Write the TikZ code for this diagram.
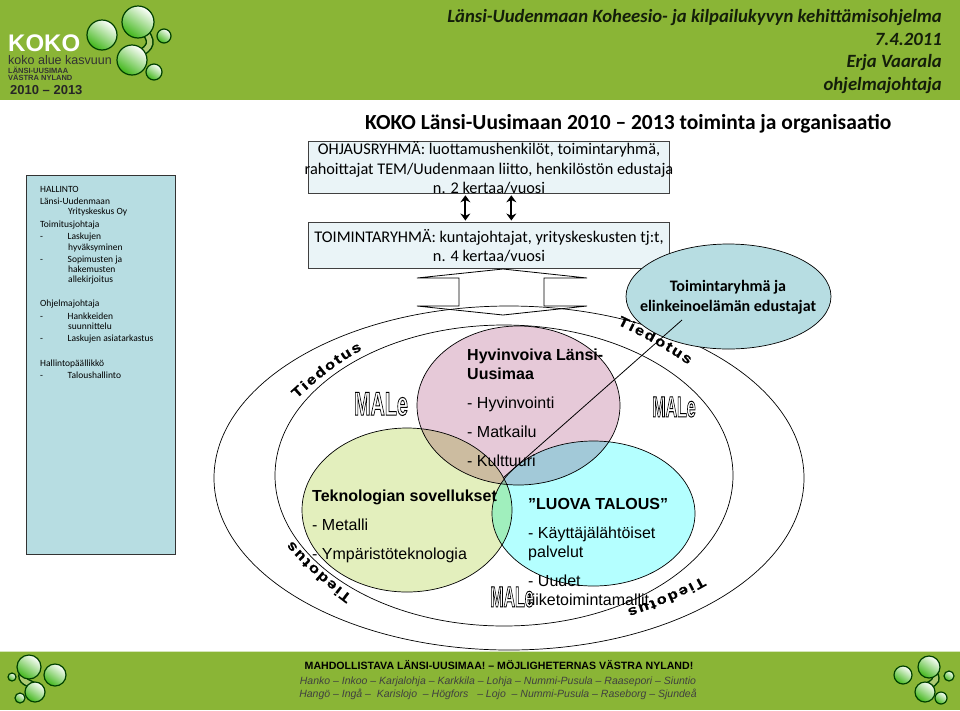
\documentclass[tikz,border=0pt]{standalone}
\usepackage{fontspec}
\usepackage{graphicx}
\setmainfont{Carlito}
\newfontfamily\arialfont{Liberation Sans}
\newfontfamily\tiedfamily[FakeStretch=1.2,FakeBold=.6]{Liberation Sans}
\usetikzlibrary{arrows.meta,calc,decorations.text,shapes.geometric}
\definecolor{kokogreen}{RGB}{138,181,54}
\definecolor{panelblue}{RGB}{183,221,226}
\definecolor{boxblue}{RGB}{234,244,247}
\definecolor{softpink}{RGB}{230,201,216}
\definecolor{softlime}{RGB}{227,239,189}
\definecolor{softcyan}{RGB}{180,255,255}
\definecolor{darktext}{RGB}{20,30,10}
\newcommand{\malefont}[2]{{\arialfont\bfseries\fontsize{#1}{#1}\selectfont\scalebox{#2}[1]{\textcolor{white}{\special{pdf:code 2 Tr 1 w 0 G}MALe\special{pdf:code 0 Tr}}}}}
\newcommand{\tiedfont}{\tiedfamily\bfseries\fontsize{14}{14}\selectfont}
\begin{document}
\begin{tikzpicture}[x=1pt,y=1pt,
  band/.style={fill=kokogreen,draw=none},
  groupbox/.style={draw=black!75,line width=.8pt,fill=boxblue,minimum width=361pt,align=center,inner sep=0pt},
  grouptext/.style={anchor=center,align=center,inner sep=0pt,font=\fontsize{16.3}{19.2}\selectfont},
  ring/.style={draw=black,line width=.7pt,ellipse,inner sep=0pt},
  venntext/.style={anchor=north west,align=left,inner sep=0pt,font=\arialfont\fontsize{16}{19}\selectfont},
  arr/.style={{Stealth[length=7pt,width=10pt]}-{Stealth[length=7pt,width=10pt]},line width=2pt},
  tied/.style={decorate,decoration={text effects along path,text={Tiedotus},text align=center,
    text effects/.cd,text along path,characters={font=\tiedfont,text=black},character widths={font=\tiedfont,inner xsep=.85pt}}},
  drop/.style={draw=black!75!green,line width=1.2pt,left color=white,right color=green!45!kokogreen!85!black,shading angle=-35},
  stem/.style={line width=8pt,black!75!green,line cap=round},
  stemfill/.style={line width=5pt,kokogreen!70!white,line cap=round}
]
\useasboundingbox (0,-710) rectangle (960,0);
% bands
\node[band,minimum width=960pt,minimum height=100pt,inner sep=0pt,anchor=north west] (topband) at (0,0) {};
\node[band,minimum width=960pt,minimum height=58pt,inner sep=0pt,anchor=south west] (footband) at (0,-710) {};
\draw[kokogreen!35!white,line width=1pt] (footband.north west) -- (footband.north east);
% logo
\node[anchor=west,inner sep=0pt,text=white,font=\arialfont\bfseries\fontsize{24}{24}\selectfont] (koko) at (8,-43.5) {KOKO};
\node[anchor=west,inner sep=0pt,text=black!80,font=\arialfont\fontsize{12.5}{13}\selectfont] (kasvu) at (8,-60.5) {koko alue kasvuun};
\node[anchor=west,inner sep=0pt,text=black!80,font=\arialfont\bfseries\fontsize{7.5}{8}\selectfont] (lansi) at (8,-70) {LÄNSI-UUSIMAA};
\node[anchor=west,inner sep=0pt,text=black!80,font=\arialfont\bfseries\fontsize{7.5}{8}\selectfont] (vastra) at (8,-77) {VÄSTRA NYLAND};
\node[anchor=west,inner sep=0pt,text=black!85,font=\arialfont\bfseries\fontsize{13}{13}\selectfont] (years) at (10,-90) {2010 – 2013};
% drops
\foreach \st in {stem,stemfill} {
  \draw[\st] (145,-32) .. controls (156,-45) and (146,-50) .. (136,-56);
  \draw[\st] (22,-675) .. controls (22,-684) and (32,-682) .. (38,-690);
  \draw[\st] (935,-675) .. controls (938,-684) and (930,-682) .. (924,-690);
}
\foreach \cx/\cy/\r in {102/-35/15,138/-22/16,164/-36/7,132/-60/15,154/-72/8}
  \shade[drop] (\cx,\cy) circle (\r);
\foreach \cx/\cy/\r in {29/-667/12,55/-675/11,12/-677/4,35/-692/10,20/-698/5}
  \shade[drop] (\cx,\cy) circle (\r);
\foreach \cx/\cy/\r in {929/-667/11,903/-675/9,949/-676/5,925/-692/10,941/-698/6}
  \shade[drop] (\cx,\cy) circle (\r);
% header
\node[anchor=north east,align=right,inner sep=0pt,text=darktext,font=\bfseries\itshape\fontsize{18.7}{22.7}\selectfont] (headtext) at (942,-9) {Länsi-Uudenmaan Koheesio- ja kilpailukyvyn kehittämisohjelma\\7.4.2011\\Erja Vaarala\\ohjelmajohtaja};
\node[anchor=west,inner sep=0pt,font=\bfseries\fontsize{21.5}{24}\selectfont] (title) at (365,-124) {KOKO Länsi-Uusimaan 2010 -- 2013 toiminta ja organisaatio};
% left panel
\node[draw=black!80,line width=.8pt,fill=panelblue,minimum width=149pt,minimum height=379pt,inner sep=0pt,anchor=north west] (hallinto) at (26,-175) {};
\node[anchor=north west,align=left,inner sep=0pt,font=\fontsize{9.5}{10.1}\selectfont] (paneltext) at (40,-186) {HALLINTO\\[2.4pt]
Länsi-Uudenmaan\\
\hspace{28pt}Yrityskeskus Oy\\[2.4pt]
Toimitusjohtaja\\[2.4pt]
-\hspace{24.6pt}Laskujen\\
\hspace{28pt}hyväksyminen\\[2.4pt]
-\hspace{24.6pt}Sopimusten ja\\
\hspace{28pt}hakemusten\\
\hspace{28pt}allekirjoitus\\[14pt]
Ohjelmajohtaja\\[2.4pt]
-\hspace{24.6pt}Hankkeiden\\
\hspace{28pt}suunnittelu\\[2.4pt]
-\hspace{24.6pt}Laskujen asiatarkastus\\[14pt]
Hallintopäällikkö\\[2.4pt]
-\hspace{24.6pt}Taloushallinto};
% groups
\node[groupbox,minimum height=52pt,anchor=north west] (ohjaus) at (308,-141) {};
\node[grouptext] (ohjaustext) at (489,-168) {OHJAUSRYHMÄ: luottamushenkilöt, toimintaryhmä,\\rahoittajat TEM/Uudenmaan liitto, henkilöstön edustaja\\n. 2 kertaa/vuosi};
\node[groupbox,minimum height=46pt,anchor=north west] (toiminta) at (308,-222) {};
\node[grouptext] (toimintatext) at (489,-245.5) {TOIMINTARYHMÄ: kuntajohtajat, yrityskeskusten tj:t,\\n. 4 kertaa/vuosi};
\draw[arr] ($(ohjaus.south west)!.435!(ohjaus.south east)+(0,-1.5)$) -- ($(toiminta.north west)!.435!(toiminta.north east)+(0,1.5)$);
\draw[arr] ($(ohjaus.south west)!.562!(ohjaus.south east)+(0,-1.5)$) -- ($(toiminta.north west)!.562!(toiminta.north east)+(0,1.5)$);
% thin block arrow
\draw[line width=.8pt] (503,-269) -- (587,-278) -- (544,-278) -- (544,-306) -- (587,-306) -- (503,-315) -- (417,-306) -- (459,-306) -- (459,-278) -- (417,-278) -- cycle;
% rings
\node[ring,minimum width=590pt,minimum height=344pt] (outer) at (509,-478) {};
\node[ring,minimum width=458pt,minimum height=301pt] (inner) at (504,-475.5) {};
% venn
\begin{scope}[blend mode=multiply]
\node[ring,fill=softpink,minimum width=203pt,minimum height=159pt] (hyvin) at (518.5,-405.5) {};
\node[ring,fill=softlime,minimum width=210pt,minimum height=164pt] (tekno) at (407,-510) {};
\node[ring,fill=softcyan,minimum width=203pt,minimum height=145pt] (luova) at (593.5,-513.5) {};
\end{scope}
% tiedotus
\path[tied] (292,-403) .. controls (315,-382) and (340,-360) .. (368,-347);
\path[tied] (612,-322) .. controls (640,-335) and (668,-350) .. (693,-368);
\path[tied] (355,-598) .. controls (335,-583) and (310,-563) .. (290,-538);
\path[tied] (705,-575) .. controls (685,-587) and (655,-600) .. (624,-610);
% venn text
\node[venntext] (hyvintext) at (467,-349) {\textbf{Hyvinvoiva Länsi-}\\\textbf{Uusimaa}\\[10pt]- Hyvinvointi\\[10pt]- Matkailu\\[10pt]- Kulttuuri};
\node[venntext] (teknotext) at (312,-490) {\textbf{Teknologian sovellukset}\\[10pt]- Metalli\\[10pt]- Ympäristöteknologia};
\node[venntext] (luovatext) at (528,-498) {\textbf{”LUOVA TALOUS”}\\[10pt]- Käyttäjälähtöiset\\palvelut\\[10pt]- Uudet\\liiketoimintamallit};
% male
\node[inner sep=0pt] (maleleft) at (381,-404) {\malefont{33}{.6}};
\node[inner sep=0pt] (maleright) at (674,-407) {\malefont{29}{.55}};
\node[inner sep=0pt] (malebottom) at (512,-597) {\malefont{29}{.55}};
% teal ellipse and pointer
\node[ring,fill=panelblue,minimum width=205pt,minimum height=105pt] (edustajat) at (728.5,-296.5) {};
\node[align=center,inner sep=0pt,font=\bfseries\fontsize{16}{20}\selectfont] (edustajattext) at (728,-297) {Toimintaryhmä ja\\elinkeinoelämän edustajat};
\coordinate (pointer) at (503,-478);
\coordinate (pointerend) at (682,-320);
\draw[line width=.8pt] (pointer) -- (pointerend);
% footer
\node[inner sep=0pt,text=black,font=\arialfont\bfseries\fontsize{10.6}{11}\selectfont] (slogan) at (499,-665) {MAHDOLLISTAVA LÄNSI-UUSIMAA! – MÖJLIGHETERNAS VÄSTRA NYLAND!};
\node[inner sep=0pt,text=black!75,align=center,font=\arialfont\itshape\fontsize{10.5}{13}\selectfont] (towns) at (498,-688.5) {Hanko – Inkoo – Karjalohja – Karkkila – Lohja – Nummi-Pusula – Raasepori – Siuntio\\Hangö – Ingå –\ \ Karislojo\ \ – Högfors\ \ \ – Lojo\ \ – Nummi-Pusula – Raseborg – Sjundeå};
\end{tikzpicture}
\end{document}
